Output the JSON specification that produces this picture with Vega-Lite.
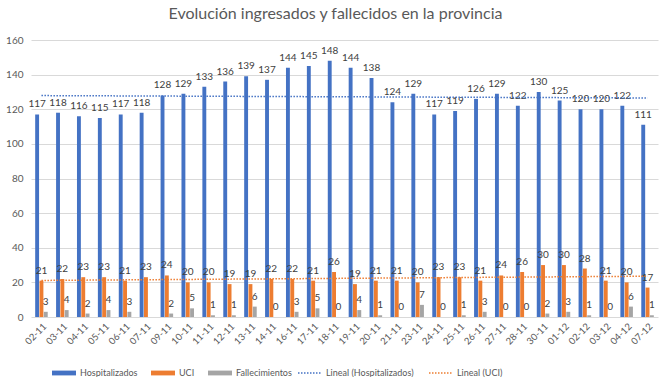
{
  "$schema": "https://vega.github.io/schema/vega-lite/v6.json",
  "autosize": "none",
  "width": 627,
  "height": 277,
  "padding": {"left": 31, "top": 40, "right": 12, "bottom": 60},
  "title": {"text": "Evolución ingresados y fallecidos en la provincia", "fontSize": 16, "font": "Lato", "fontWeight": "normal", "color": "#595959", "offset": 13, "dx": -9},
  "config": {
    "view": {"stroke": null},
    "font": "Lato",
    "axis": {"labelFont": "Lato", "labelColor": "#595959", "labelFontSize": 10}
  },
  "data": {"values": [
    {"fecha": "02-11", "Hospitalizados": 117, "UCI": 21, "Fallecimientos": 3},
    {"fecha": "03-11", "Hospitalizados": 118, "UCI": 22, "Fallecimientos": 4},
    {"fecha": "04-11", "Hospitalizados": 116, "UCI": 23, "Fallecimientos": 2},
    {"fecha": "05-11", "Hospitalizados": 115, "UCI": 23, "Fallecimientos": 4},
    {"fecha": "06-11", "Hospitalizados": 117, "UCI": 21, "Fallecimientos": 3},
    {"fecha": "07-11", "Hospitalizados": 118, "UCI": 23},
    {"fecha": "09-11", "Hospitalizados": 128, "UCI": 24, "Fallecimientos": 2},
    {"fecha": "10-11", "Hospitalizados": 129, "UCI": 20, "Fallecimientos": 5},
    {"fecha": "11-11", "Hospitalizados": 133, "UCI": 20, "Fallecimientos": 1},
    {"fecha": "12-11", "Hospitalizados": 136, "UCI": 19, "Fallecimientos": 1},
    {"fecha": "13-11", "Hospitalizados": 139, "UCI": 19, "Fallecimientos": 6},
    {"fecha": "14-11", "Hospitalizados": 137, "UCI": 22, "Fallecimientos": 0},
    {"fecha": "16-11", "Hospitalizados": 144, "UCI": 22, "Fallecimientos": 3},
    {"fecha": "17-11", "Hospitalizados": 145, "UCI": 21, "Fallecimientos": 5},
    {"fecha": "18-11", "Hospitalizados": 148, "UCI": 26, "Fallecimientos": 0},
    {"fecha": "19-11", "Hospitalizados": 144, "UCI": 19, "Fallecimientos": 4},
    {"fecha": "20-11", "Hospitalizados": 138, "UCI": 21, "Fallecimientos": 1},
    {"fecha": "21-11", "Hospitalizados": 124, "UCI": 21, "Fallecimientos": 0},
    {"fecha": "23-11", "Hospitalizados": 129, "UCI": 20, "Fallecimientos": 7},
    {"fecha": "24-11", "Hospitalizados": 117, "UCI": 23, "Fallecimientos": 0},
    {"fecha": "25-11", "Hospitalizados": 119, "UCI": 23, "Fallecimientos": 1},
    {"fecha": "26-11", "Hospitalizados": 126, "UCI": 21, "Fallecimientos": 3},
    {"fecha": "27-11", "Hospitalizados": 129, "UCI": 24, "Fallecimientos": 0},
    {"fecha": "28-11", "Hospitalizados": 122, "UCI": 26, "Fallecimientos": 0},
    {"fecha": "30-11", "Hospitalizados": 130, "UCI": 30, "Fallecimientos": 2},
    {"fecha": "01-12", "Hospitalizados": 125, "UCI": 30, "Fallecimientos": 3},
    {"fecha": "02-12", "Hospitalizados": 120, "UCI": 28, "Fallecimientos": 1},
    {"fecha": "03-12", "Hospitalizados": 120, "UCI": 21, "Fallecimientos": 0},
    {"fecha": "04-12", "Hospitalizados": 122, "UCI": 20, "Fallecimientos": 6},
    {"fecha": "07-12", "Hospitalizados": 111, "UCI": 17, "Fallecimientos": 1}
  ]},
  "layer": [
    {
      "transform": [{"fold": ["Hospitalizados", "UCI", "Fallecimientos"], "as": ["serie", "valor"]}],
      "encoding": {
        "x": {"field": "fecha", "type": "nominal", "sort": null, "scale": {"paddingInner": 0.4, "paddingOuter": 0.2},
              "axis": {"title": null, "labelAngle": -45, "ticks": false, "domain": false, "labelPadding": 4, "labelFontSize": 9.5}},
        "xOffset": {"field": "serie", "type": "nominal", "scale": {"domain": ["Hospitalizados", "UCI", "Fallecimientos"], "paddingInner": 0.1}},
        "y": {"field": "valor", "type": "quantitative", "scale": {"domain": [0, 160]},
              "axis": {"title": null, "values": [0, 20, 40, 60, 80, 100, 120, 140, 160], "labelOverlap": false, "gridColor": "#D9D9D9", "domain": false, "ticks": false, "labelPadding": 8}}
      },
      "layer": [
        {
          "mark": {"type": "bar"},
          "encoding": {
            "color": {"field": "serie", "type": "nominal",
                      "scale": {"domain": ["Hospitalizados", "UCI", "Fallecimientos"], "range": ["#4472C4", "#ED7D31", "#A5A5A5"]},
                      "legend": {"title": null, "orient": "none", "legendX": 20, "legendY": 320, "direction": "horizontal", "columnPadding": 12, "labelOffset": 3,
                                 "labelFont": "Lato", "labelFontSize": 9, "labelColor": "#595959", "symbolSize": 576, "symbolType": "M-1,-0.2H1V0.2H-1Z"}}
          }
        },
        {
          "transform": [{"filter": "isValid(datum.valor)"}],
          "mark": {"type": "text", "baseline": "bottom", "dy": -5, "fontSize": 10, "color": "#404040", "font": "Lato"},
          "encoding": {
            "text": {"field": "valor", "type": "quantitative"}
          }
        }
      ]
    },
    {
      "transform": [
        {"window": [{"op": "row_number", "as": "i"}]},
        {"fold": ["Hospitalizados", "UCI"], "as": ["serie", "valor"]},
        {"regression": "valor", "on": "i", "groupby": ["serie"]},
        {"calculate": "'Lineal (' + datum.serie + ')'", "as": "tendencia"}
      ],
      "mark": {"type": "line", "strokeDash": [1.5, 1.5], "strokeWidth": 1.5},
      "encoding": {
        "x": {"field": "i", "type": "quantitative", "scale": {"domain": [0.5, 30.5], "nice": false, "zero": false}, "axis": null},
        "y": {"field": "valor", "type": "quantitative",
              "axis": {"title": null, "values": [0, 20, 40, 60, 80, 100, 120, 140, 160], "labelOverlap": false, "gridColor": "#D9D9D9", "domain": false, "ticks": false, "labelPadding": 8}},
        "stroke": {"field": "tendencia", "type": "nominal",
                   "scale": {"domain": ["Lineal (Hospitalizados)", "Lineal (UCI)"], "range": ["#4472C4", "#ED7D31"]},
                   "legend": {"title": null, "orient": "none", "legendX": 266, "legendY": 320, "direction": "horizontal", "columnPadding": 12, "labelOffset": 3,
                              "labelFont": "Lato", "labelFontSize": 9, "labelColor": "#595959", "symbolSize": 576, "symbolType": "stroke",
                              "symbolStrokeWidth": 1.5, "symbolDash": [1.5, 1.5]}}
      }
    }
  ],
  "resolve": {"scale": {"x": "independent"}}
}
